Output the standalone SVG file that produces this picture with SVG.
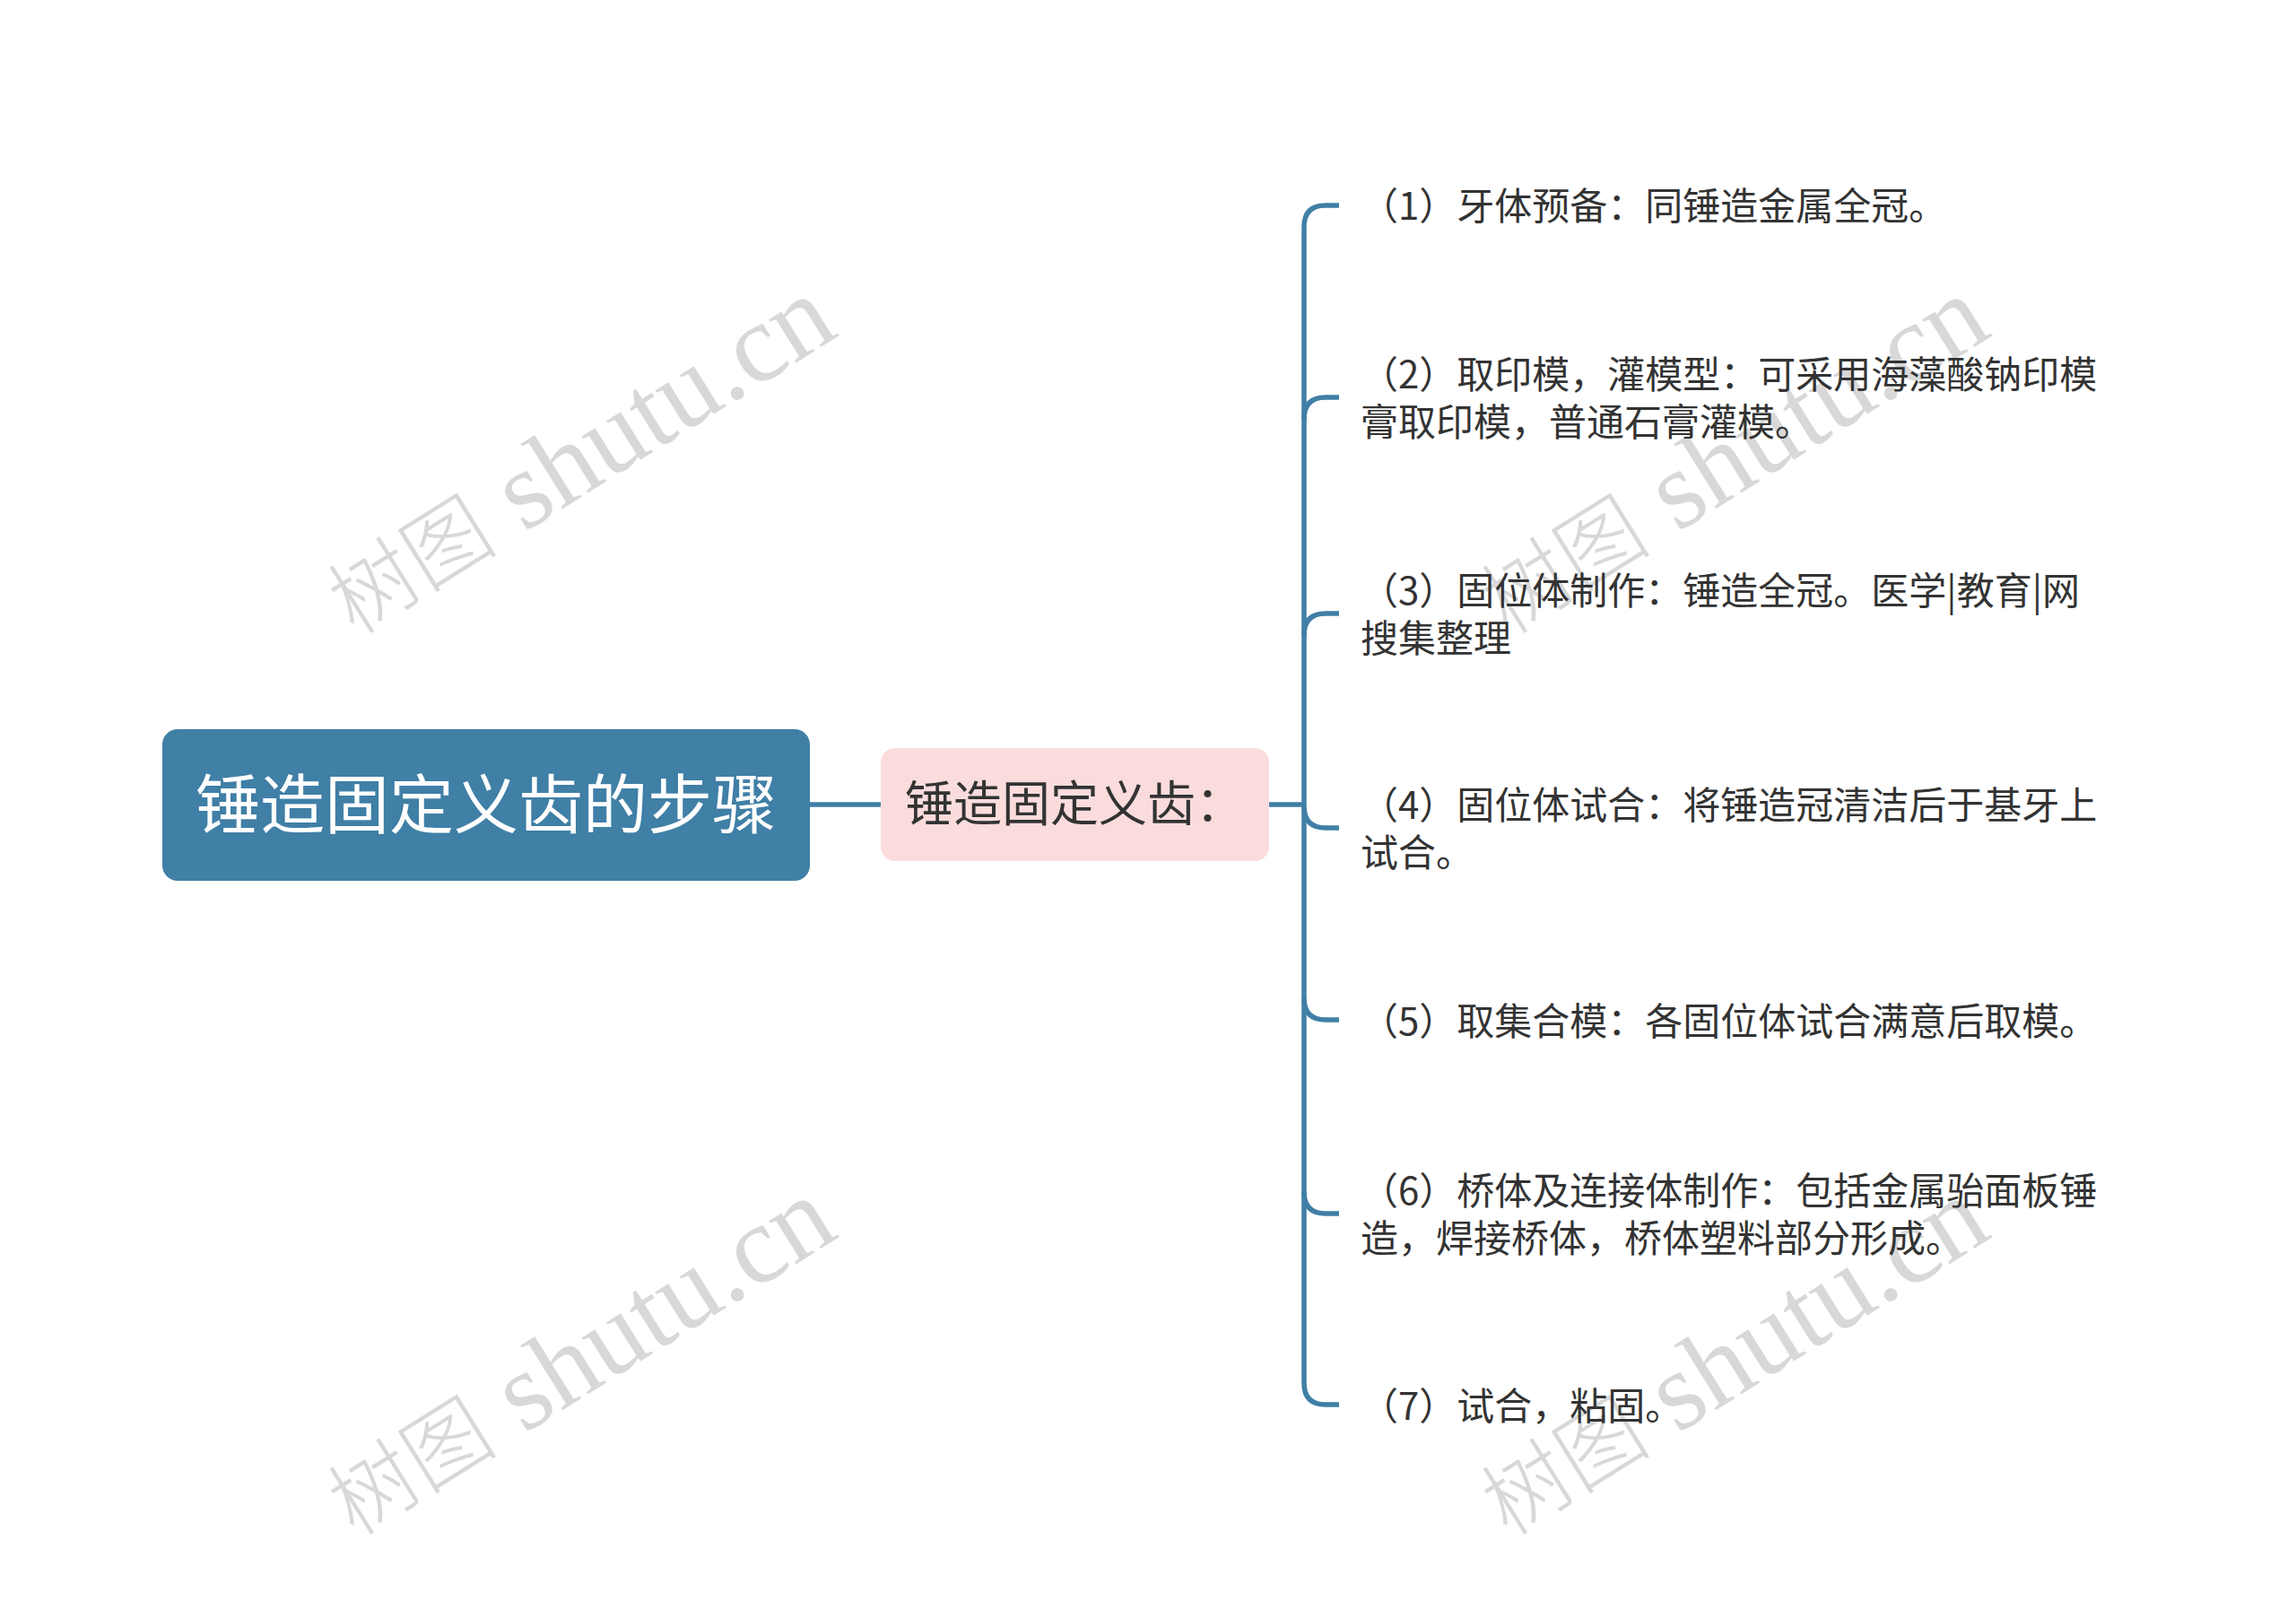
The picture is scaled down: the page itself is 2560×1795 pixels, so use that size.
<svg xmlns="http://www.w3.org/2000/svg" width="2560" height="1795" viewBox="0 0 2560 1795">
<style>
.wm{font-family:"Liberation Serif","Noto Sans CJK SC",serif;font-size:124px;fill:#d8d8d8;}
.wm .cj{font-family:"Noto Sans CJK SC",serif;font-size:95px;font-weight:300;}
.conn{fill:none;stroke:#407fa6;stroke-width:5.5;stroke-linecap:butt;}
.item{font-family:"Noto Sans CJK SC","Noto Sans",sans-serif;font-size:42px;fill:#333333;}
.root-t{font-family:"Noto Sans CJK SC","Noto Sans",sans-serif;font-size:72px;fill:#ffffff;}
.child-t{font-family:"Noto Sans CJK SC","Noto Sans",sans-serif;font-size:54px;fill:#333333;}
</style>
<rect width="2560" height="1795" fill="#ffffff"/>
<g id="watermarks">
<text class="wm" x="652" y="518" text-anchor="middle" dominant-baseline="middle" transform="rotate(-32 652 518)"><tspan class="cj">树图</tspan> shutu.cn</text>
<text class="wm" x="652" y="1523" text-anchor="middle" dominant-baseline="middle" transform="rotate(-32 652 1523)"><tspan class="cj">树图</tspan> shutu.cn</text>
<text class="wm" x="1938" y="518" text-anchor="middle" dominant-baseline="middle" transform="rotate(-32 1938 518)"><tspan class="cj">树图</tspan> shutu.cn</text>
<text class="wm" x="1938" y="1523" text-anchor="middle" dominant-baseline="middle" transform="rotate(-32 1938 1523)"><tspan class="cj">树图</tspan> shutu.cn</text>
</g>
<g id="connectors">
<path class="conn" d="M903,897 H982"/>
<path class="conn" d="M1415,897 H1454"/>
<path class="conn" d="M1493,229 H1478 Q1454,229 1454,253 V1542 Q1454,1566 1478,1566 H1493"/>
<path class="conn" d="M1454,467 Q1454,443 1478,443 H1493"/>
<path class="conn" d="M1454,708 Q1454,684 1478,684 H1493"/>
<path class="conn" d="M1454,899 Q1454,923 1478,923 H1493"/>
<path class="conn" d="M1454,1113 Q1454,1137 1478,1137 H1493"/>
<path class="conn" d="M1454,1329 Q1454,1353 1478,1353 H1493"/>
</g>
<g id="root">
<rect x="181" y="813" width="722" height="169" rx="17" fill="#407fa6"/>
<text class="root-t" x="542" y="923" text-anchor="middle">锤造固定义齿的步骤</text>
</g>
<g id="child">
<rect x="982" y="834" width="433" height="126" rx="16" fill="#fbdcdc"/>
<text class="child-t" x="1198" y="916" text-anchor="middle">锤造固定义齿：</text>
</g>
<g id="item1"><text class="item" x="1517" y="245">（1）牙体预备：同锤造金属全冠。</text></g>
<g id="item2"><text class="item" x="1517" y="433">（2）取印模，灌模型：可采用海藻酸钠印模</text><text class="item" x="1517" y="486">膏取印模，普通石膏灌模。</text></g>
<g id="item3"><text class="item" x="1517" y="674">（3）固位体制作：锤造全冠。医学|教育|网</text><text class="item" x="1517" y="727">搜集整理</text></g>
<g id="item4"><text class="item" x="1517" y="913">（4）固位体试合：将锤造冠清洁后于基牙上</text><text class="item" x="1517" y="966">试合。</text></g>
<g id="item5"><text class="item" x="1517" y="1154">（5）取集合模：各固位体试合满意后取模。</text></g>
<g id="item6"><text class="item" x="1517" y="1343">（6）桥体及连接体制作：包括金属骀面板锤</text><text class="item" x="1517" y="1396">造，焊接桥体，桥体塑料部分形成。</text></g>
<g id="item7"><text class="item" x="1517" y="1583">（7）试合，粘固。</text></g>
</svg>
